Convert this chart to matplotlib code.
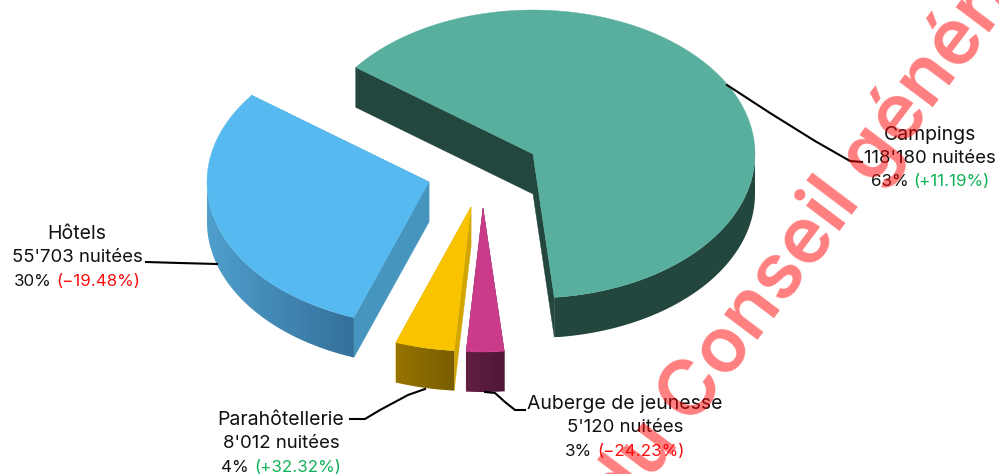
import matplotlib

matplotlib.use("Agg")
import matplotlib.pyplot as plt
import numpy as np
from matplotlib.patches import Polygon

categories = ["Campings", "Auberge de jeunesse", "Parahôtellerie", "Hôtels"]
nights = [118180, 5120, 8012, 55703]
nights_labels = ["118'180 nuitées", "5'120 nuitées", "8'012 nuitées", "55'703 nuitées"]
shares = ["63%", "3%", "4%", "30%"]
changes = ["(+11.19%)", "(−24.23%)", "(+32.32%)", "(−19.48%)"]
change_colors = ["#10b259", "#fa0f0f", "#10b259", "#fa0f0f"]

top_colors = ["#58af9d", "#cc3a8a", "#fac300", "#56b9ef"]
cut_colors = ["#23463e", "#5a1c40", "#d2a600", "#4595be"]
side_left = ["#23463e", "#611f42", "#977400", "#4f9fcc"]
side_right = ["#23463e", "#4f1737", "#785d00", "#34709a"]

# apex of each slice in pixels, the slices are pulled apart by hand
apexes = [(533, 154), (483, 208), (471, 207), (429, 182)]
label_pos = [(930, 135), (625, 404), (281, 420), (77, 234)]
leaders = [
    [(727, 85), (770, 113), (815, 141), (850, 161), (862, 162)],
    [(485, 392), (495, 393), (505, 402), (515, 410), (525, 410)],
    [(425, 389), (408, 395), (380, 410), (365, 419), (350, 419)],
    [(146, 262), (180, 263), (217, 264)],
]

RX, RY = 222, 144
DEPTH = 40
START_ANGLE = 143.0
LINE_H = 23.5
FONT = "Inter"
# the three label lines run a bit different in the original font
SIZE_NAME, SIZE_NIGHTS, SIZE_SHARE = 14.0, 13.4, 12.2


def ellipse_points(apex, a0, a1, n=120):
    t = np.radians(np.linspace(a0, a1, n))
    return np.column_stack([apex[0] + RX * np.cos(t), apex[1] - RY * np.sin(t)])


def draw_slice(ax, i, a0, a1):
    apex = apexes[i]
    down = np.array([0, DEPTH])
    arc = ellipse_points(apex, a0, a1)

    # cut faces go first, the top covers what should be hidden
    for edge in (arc[0], arc[-1]):
        face = np.array([apex, edge, edge + down, np.array(apex) + down])
        ax.add_patch(Polygon(face, fc=cut_colors[i], ec=cut_colors[i], lw=0.3, zorder=2 + i * 0.01))

    # outer side, one polygon that clips a horizontal gradient
    seen = [a for a in np.linspace(a1, a0, 240) if np.sin(np.radians(a)) < 0.02]
    if len(seen) > 1:
        strip = ellipse_points(apex, seen[0], seen[-1], 240)
        shape = np.vstack([strip, strip[::-1] + down])
        side = Polygon(shape, fc="none", ec="none", transform=ax.transData)
        ax.add_patch(side)
        cmap = matplotlib.colors.LinearSegmentedColormap.from_list(
            f"side{i}", [side_left[i], side_right[i]]
        )
        x0, x1 = shape[:, 0].min(), shape[:, 0].max()
        y0, y1 = shape[:, 1].min(), shape[:, 1].max()
        img = ax.imshow(
            np.linspace(0, 1, 256).reshape(1, -1), cmap=cmap, extent=(x0, x1, y1, y0),
            aspect="auto", interpolation="bilinear", zorder=3 + i * 0.01,
        )
        img.set_clip_path(side)

    top = np.vstack([[apex], arc])
    ax.add_patch(Polygon(top, fc=top_colors[i], ec=top_colors[i], lw=0.3, zorder=4 + i * 0.01))


def text_width(fig, renderer, s):
    t = fig.text(0, 0, s, family=FONT, fontsize=SIZE_SHARE)
    w = t.get_window_extent(renderer).width
    t.remove()
    return w


def draw_label(ax, fig, renderer, i):
    cx, y = label_pos[i]
    style = dict(family=FONT, va="center", zorder=6)
    ax.text(cx, y, categories[i], ha="center", color="#111111", fontsize=SIZE_NAME, **style)
    ax.text(cx, y + LINE_H, nights_labels[i], ha="center", color="#111111", fontsize=SIZE_NIGHTS, **style)
    full = f"{shares[i]} {changes[i]}"
    w = text_width(fig, renderer, full)
    ax.text(cx - w / 2, y + 2 * LINE_H, shares[i], ha="left", color="#111111", fontsize=SIZE_SHARE, **style)
    ax.text(cx + w / 2, y + 2 * LINE_H, changes[i], ha="right", color=change_colors[i], fontsize=SIZE_SHARE, **style)


def main():
    fig = plt.figure(figsize=(9.99, 4.74), dpi=100)
    ax = fig.add_axes([0, 0, 1, 1])
    renderer = fig.canvas.get_renderer()

    sweeps = np.array(nights) / sum(nights) * 360.0
    angle = START_ANGLE
    for i, sweep in enumerate(sweeps):
        draw_slice(ax, i, angle, angle - sweep)
        angle -= sweep

    ax.set_xlim(0, 999)
    ax.set_ylim(474, 0)
    ax.axis("off")

    for line in leaders:
        pts = np.array(line)
        ax.plot(pts[:, 0], pts[:, 1], color="black", lw=1.5, zorder=5)

    for i in range(len(categories)):
        draw_label(ax, fig, renderer, i)

    ax.text(
        622, 520, "du Conseil général", family="Inter", fontsize=56, fontweight=600,
        color="red", alpha=0.5, rotation=53, rotation_mode="anchor", ha="left", va="baseline",
        zorder=7, clip_on=True,
    )
    fig.savefig("out.png", dpi=100)
    plt.close(fig)


if __name__ == "__main__":
    main()
